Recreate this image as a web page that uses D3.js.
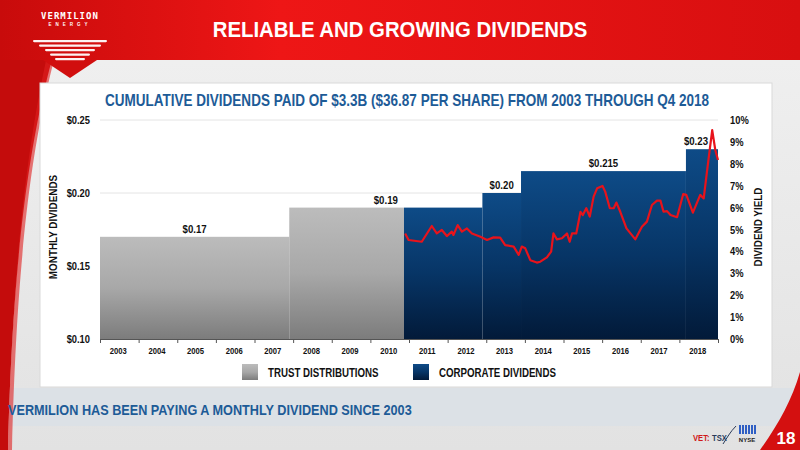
<!DOCTYPE html>
<html>
<head>
<meta charset="utf-8">
<script src="https://cdn.jsdelivr.net/npm/d3@7"></script>
<style>
  body { margin: 0; background: #e9e9e9; }
  svg { display: block; }
  text { font-family: "Liberation Sans", Arial, sans-serif; font-weight: bold; }
</style>
</head>
<body>
<div id="chart"></div>
<script>
// dividend levels (monthly, per share) and when they started / ended
var levelValue = [0.17, 0.19, 0.20, 0.215, 0.23]
var levelFrom = [2003, 2007.9, 2012.9, 2013.9, 2018.17]
var levelTo = [2007.9, 2012.9, 2013.9, 2018.17, 2019]
var levelLabel = ['$0.17', '$0.19', '$0.20', '$0.215', '$0.23']
var conversionYear = 2010.87 // trust -> corporation

// dividend yield line (%)
var yieldYear = [2010.90, 2010.99, 2011.33, 2011.59, 2011.72, 2011.85, 2011.98, 2012.11, 2012.15, 2012.26,
  2012.37, 2012.50, 2012.63, 2012.85, 2013.02, 2013.19, 2013.36, 2013.49, 2013.71, 2013.84,
  2013.92, 2014.01, 2014.14, 2014.31, 2014.40, 2014.57, 2014.68, 2014.74, 2014.83, 2014.96,
  2015.09, 2015.16, 2015.22, 2015.33, 2015.44, 2015.50, 2015.59, 2015.68, 2015.78, 2015.87,
  2016.01, 2016.08, 2016.20, 2016.30, 2016.37, 2016.47, 2016.63, 2016.86, 2017.03, 2017.16,
  2017.29, 2017.42, 2017.51, 2017.59, 2017.68, 2017.77, 2017.94, 2018.10, 2018.18, 2018.35,
  2018.54, 2018.63, 2018.72, 2018.85, 2018.93, 2019.0]
var yieldPct = [4.82, 4.52, 4.44, 5.16, 4.82, 4.98, 4.70, 4.90, 4.75, 5.20,
  4.90, 5.05, 4.82, 4.67, 4.52, 4.64, 4.63, 4.29, 4.22, 3.84,
  4.22, 4.14, 3.60, 3.49, 3.53, 3.73, 3.99, 4.82, 4.55, 4.60,
  4.82, 4.44, 4.82, 4.82, 5.81, 5.66, 5.97, 5.59, 6.50, 6.88,
  6.99, 6.73, 5.97, 5.97, 6.23, 5.81, 5.05, 4.55, 5.13, 5.36,
  6.12, 6.32, 6.32, 5.81, 5.84, 5.66, 5.56, 6.62, 6.58, 5.77,
  6.58, 6.42, 7.72, 9.54, 8.63, 8.17]

var years = d3.range(2003, 2019)
var leftTicks = [0.10, 0.15, 0.20, 0.25]
var rightTicks = d3.range(0, 11)

var W = 800, H = 450
var svg = d3.select('#chart').append('svg').attr('width', W).attr('height', H)
var defs = svg.append('defs')

// no narrow font installed, so squeeze text horizontally
function squeeze(sel, sx) {
  sel.each(function () {
    var t = d3.select(this)
    var x0 = +t.attr('x') || 0, y0 = +t.attr('y') || 0
    var tr = t.attr('transform') || ''
    t.attr('x', 0).attr('y', 0)
      .attr('transform', tr + ' translate(' + x0 + ',' + y0 + ') scale(' + sx + ',1)')
  })
}

function vgrad(id, stops) {
  var g = defs.append('linearGradient').attr('id', id)
    .attr('x1', 0).attr('y1', 0).attr('x2', 0).attr('y2', 1)
  stops.forEach(function (s) { g.append('stop').attr('offset', s[0]).attr('stop-color', s[1]) })
}
vgrad('gray', [[0, '#bcbcbc'], [0.5, '#a8a8a8'], [1, '#7c7c7c']])
vgrad('blue', [[0, '#0e4b87'], [0.5, '#073566'], [1, '#021a39']])
vgrad('page', [[0, '#f1f1f1'], [1, '#e2e2e2']])
var hg = defs.append('linearGradient').attr('id', 'bannerH').attr('x1', 0).attr('x2', 1).attr('y1', 0).attr('y2', 0)
hg.append('stop').attr('offset', 0).attr('stop-color', '#c80b0b')
hg.append('stop').attr('offset', 0.35).attr('stop-color', '#ee1616')
hg.append('stop').attr('offset', 1).attr('stop-color', '#d80f10')

// page background
svg.append('rect').attr('width', W).attr('height', H).attr('fill', 'url(#page)')
svg.append('rect').attr('x', 0).attr('y', 388).attr('width', W).attr('height', 38).attr('fill', '#dce1e6')

// left red sweep
svg.append('path')
  .attr('d', 'M0,0 L70,0 C40,90 14,200 8,450 L0,450 Z')
  .attr('fill', '#c40c0c')
svg.append('path')
  .attr('d', 'M60,0 L72,0 C42,90 18,200 12,450 L8,450 C14,200 38,90 60,0 Z')
  .attr('fill', '#e02020').attr('opacity', 0.6)

// bottom right red corner
svg.append('path')
  .attr('d', 'M760,450 C778,425 792,400 800,372 L800,450 Z')
  .attr('fill', '#d41010')

// top banner
svg.append('rect').attr('x', 0).attr('y', 0).attr('width', W).attr('height', 60).attr('fill', 'url(#bannerH)')
svg.append('path').attr('d', 'M43,60 L97,60 L70,78 Z').attr('fill', '#d10e0e')

// logo
svg.append('text').attr('x', 70).attr('y', 19).attr('text-anchor', 'middle')
  .attr('fill', '#fff').style('font-family', 'DejaVu Sans Mono, monospace').style('font-size', '9px')
  .style('letter-spacing', '1px').text('VERMILION')
svg.append('text').attr('x', 70).attr('y', 26).attr('text-anchor', 'middle')
  .attr('fill', '#fff').style('font-size', '4.5px').style('letter-spacing', '4px').text('ENERGY')
var stripeW = [74, 62, 50, 40, 30]
stripeW.forEach(function (w, i) {
  svg.append('rect').attr('x', 70 - w / 2).attr('y', 40 + i * 4.5).attr('width', w).attr('height', 2.2)
    .attr('rx', 1.1).attr('fill', '#fff').attr('opacity', 0.95)
})

svg.append('text').attr('x', 400).attr('y', 37).attr('text-anchor', 'middle')
  .attr('fill', '#fff').style('font-size', '22px')
  .text('RELIABLE AND GROWING DIVIDENDS')
  .call(squeeze, 0.925)

// white panel
svg.append('rect').attr('x', 40).attr('y', 83).attr('width', 732).attr('height', 304)
  .attr('fill', '#fff').attr('stroke', '#d9d9d9').attr('stroke-width', 1)

svg.append('text').attr('x', 407).attr('y', 106).attr('text-anchor', 'middle')
  .attr('fill', '#1d5b97').style('font-size', '16px')
  .text('CUMULATIVE DIVIDENDS PAID OF $3.3B ($36.87 PER SHARE) FROM 2003 THROUGH Q4 2018')
  .call(squeeze, 0.846)

// scales
var x = d3.scaleLinear().domain([2003, 2019]).range([100, 718])
var y = d3.scaleLinear().domain([0.10, 0.25]).range([339, 120])
var y2 = d3.scaleLinear().domain([0, 10]).range([339, 120])

// grid
svg.append('g').selectAll('line').data(leftTicks.slice(1)).enter().append('line')
  .attr('x1', 100).attr('x2', 718)
  .attr('y1', function (d) { return y(d) }).attr('y2', function (d) { return y(d) })
  .attr('stroke', '#e4e4e4').attr('stroke-width', 1)

// bars, split at conversion from trust to corporation
var bars = []
levelValue.forEach(function (v, i) {
  var a = levelFrom[i], b = levelTo[i]
  if (a < conversionYear && b > conversionYear) {
    bars.push({ from: a, to: conversionYear, value: v, type: 'gray' })
    bars.push({ from: conversionYear, to: b, value: v, type: 'blue' })
  } else {
    bars.push({ from: a, to: b, value: v, type: b <= conversionYear ? 'gray' : 'blue' })
  }
})

svg.append('g').selectAll('rect').data(bars).enter().append('rect')
  .attr('x', function (d) { return x(d.from) })
  .attr('width', function (d) { return x(d.to) - x(d.from) })
  .attr('y', function (d) { return y(d.value) })
  .attr('height', function (d) { return y(0.10) - y(d.value) })
  .attr('fill', function (d) { return 'url(#' + d.type + ')' })

// level labels
svg.append('g').selectAll('text').data(levelValue).enter().append('text')
  .attr('x', function (d, i) { return x((levelFrom[i] + levelTo[i]) / 2) - (i == 4 ? 6 : 0) })
  .attr('y', function (d) { return y(d) - 4 })
  .attr('text-anchor', 'middle').attr('fill', '#111').style('font-size', '11.5px')
  .text(function (d, i) { return levelLabel[i] })
  .call(squeeze, 0.84)

// yield line
var pts = yieldYear.map(function (d, i) { return [d, yieldPct[i]] })
svg.append('path').datum(pts)
  .attr('d', d3.line().x(function (d) { return x(d[0]) }).y(function (d) { return y2(d[1]) }))
  .attr('fill', 'none').attr('stroke', '#e8131b').attr('stroke-width', 2.2)
  .attr('stroke-linejoin', 'round')

// x axis
var xAxis = svg.append('g').attr('transform', 'translate(0,339)')
  .call(d3.axisBottom(x).tickValues(d3.range(2003, 2020)).tickSize(4).tickFormat(''))
xAxis.select('.domain').attr('stroke', '#555').attr('d', 'M100,0.5H718')
xAxis.selectAll('.tick line').attr('stroke', '#555')
svg.append('g').selectAll('text').data(years).enter().append('text')
  .attr('x', function (d) { return x(d + 0.5) - 1 })
  .attr('y', 354).attr('text-anchor', 'middle').attr('fill', '#111').style('font-size', '9px')
  .text(function (d) { return d })
  .call(squeeze, 0.85)

// left axis
var yAxis = svg.append('g').attr('transform', 'translate(90,0)')
  .call(d3.axisLeft(y).tickValues(leftTicks).tickSize(0).tickFormat(d3.format('$.2f')))
yAxis.select('.domain').remove()
yAxis.selectAll('text').attr('fill', '#111').style('font-size', '11px').attr('x', 0).call(squeeze, 0.85)

// right axis
var y2Axis = svg.append('g').attr('transform', 'translate(730,0)')
  .call(d3.axisRight(y2).tickValues(rightTicks).tickSize(0).tickFormat(function (d) { return d + '%' }))
y2Axis.select('.domain').remove()
y2Axis.selectAll('text').attr('fill', '#111').style('font-size', '11px').attr('x', 0).call(squeeze, 0.85)

svg.append('text').attr('transform', 'translate(57,227) rotate(-90)').attr('text-anchor', 'middle')
  .attr('fill', '#111').style('font-size', '11.5px').text('MONTHLY DIVIDENDS').call(squeeze, 0.86)
svg.append('text').attr('transform', 'translate(762,227) rotate(-90)').attr('text-anchor', 'middle')
  .attr('fill', '#111').style('font-size', '11.5px').text('DIVIDEND YIELD').call(squeeze, 0.86)

// legend
var legendItems = [['gray', 'TRUST DISTRIBUTIONS', 242], ['blue', 'CORPORATE DIVIDENDS', 413]]
var lg = svg.append('g').selectAll('g').data(legendItems).enter().append('g')
lg.append('rect').attr('x', function (d) { return d[2] }).attr('y', 364).attr('width', 16).attr('height', 16)
  .attr('fill', function (d) { return 'url(#' + d[0] + ')' })
lg.append('text').attr('x', function (d) { return d[2] + 26 }).attr('y', 377)
  .attr('fill', '#111').style('font-size', '12px')
  .text(function (d) { return d[1] })
  .call(squeeze, 0.81)

// footer
svg.append('text').attr('x', 8).attr('y', 415).attr('fill', '#1d5b97').style('font-size', '15px')
  .text('VERMILION HAS BEEN PAYING A MONTHLY DIVIDEND SINCE 2003')
  .call(squeeze, 0.845)

// ticker logos
svg.append('text').attr('x', 693).attr('y', 441).attr('fill', '#d01818').style('font-size', '9px')
  .text('VET:').call(squeeze, 0.85)
svg.append('text').attr('x', 712).attr('y', 441).attr('fill', '#2a3b5a').style('font-size', '9px')
  .text('TSX').call(squeeze, 0.85)
svg.append('path').attr('d', 'M723,444 C727,438 730,432 736,426').attr('stroke', '#2a3b5a')
  .attr('stroke-width', 1).attr('fill', 'none')
d3.range(6).forEach(function (i) {
  svg.append('rect').attr('x', 739 + i * 3).attr('y', 425).attr('width', 2).attr('height', 9).attr('fill', '#2f5fc4')
})
svg.append('text').attr('x', 747).attr('y', 442).attr('text-anchor', 'middle').attr('fill', '#222')
  .style('font-size', '6px').text('NYSE')
svg.append('text').attr('x', 786).attr('y', 444).attr('text-anchor', 'middle').attr('fill', '#fff')
  .style('font-size', '17px').text('18')
</script>
</body>
</html>
